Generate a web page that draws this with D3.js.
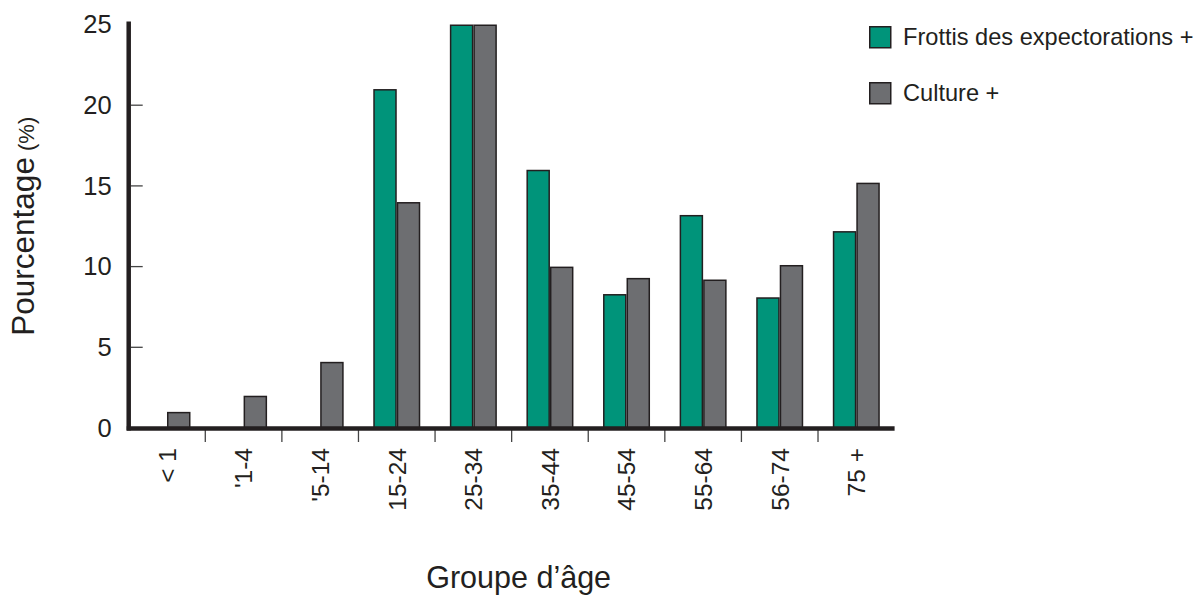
<!DOCTYPE html>
<html><head><meta charset="utf-8">
<script src="https://cdn.jsdelivr.net/npm/d3@7"></script>
<style>
html,body{margin:0;padding:0;background:#fff;}
svg{display:block;font-family:"Liberation Sans",Arial,Helvetica,sans-serif;}
</style></head>
<body>
<svg id="chart" width="1201" height="596"></svg>
<script>
const categories = ["< 1", "'1-4", "'5-14", "15-24", "25-34", "35-44", "45-54", "55-64", "56-74", "75 +"];
const seriesNames = ["Frottis des expectorations +", "Culture +"];
const frottisValues = [0, 0, 0, 21, 25, 16, 8.3, 13.2, 8.1, 12.2];
const cultureValues = [1, 2, 4.1, 14, 25, 10, 9.3, 9.2, 10.1, 15.2];
const yTicks = [0, 5, 10, 15, 20, 25];
const colors = ["#00947a", "#6d6e71"];

(function () {
const svg = d3.select("#chart");
const ink = "#231f20";
const pLeft = 128.7, pRight = 894.6, pTop = 24.5, pBottom = 428;

const x = d3.scaleBand().domain(categories).range([pLeft, pRight]).paddingInner(0).paddingOuter(0);
const bw = x.bandwidth();
const barW = 23.5;
const x1 = d3.scaleBand().domain(seriesNames).range([bw / 2 - barW, bw / 2 + barW]);
const y = d3.scaleLinear().domain([0, 25]).range([pBottom, pTop]);

const data = categories.map((c, i) => ({cat: c, vals: [frottisValues[i], cultureValues[i]]}));

// bars
const g = svg.append("g");
const groups = g.selectAll("g.cat").data(data).join("g")
  .attr("transform", d => `translate(${x(d.cat)},0)`);
groups.selectAll("rect").data(d => d.vals.map((v, k) => ({v, k})).filter(e => e.v > 0)).join("rect")
  .attr("x", e => x1(seriesNames[e.k]) + 0.75)
  .attr("y", e => y(e.v) + 0.75)
  .attr("width", x1.bandwidth() - 1.5)
  .attr("height", e => y(0) - y(e.v))
  .attr("fill", e => colors[e.k])
  .attr("stroke", ink)
  .attr("stroke-width", 1.5);

// y axis
const yAxis = d3.axisLeft(y).tickValues(yTicks).tickSize(0).tickPadding(17);
const ya = svg.append("g").attr("transform", `translate(${pLeft},0)`).call(yAxis);
ya.select(".domain").remove();
ya.selectAll("text").attr("font-size", 25.5).attr("fill", ink).attr("font-family", "Liberation Sans, Arial, sans-serif");
// inner tick marks
svg.append("g").selectAll("line").data(yTicks.filter(t => t > 0 && t < 25)).join("line")
  .attr("x1", pLeft + 2).attr("x2", pLeft + 14)
  .attr("y1", d => y(d)).attr("y2", d => y(d))
  .attr("stroke", "#444").attr("stroke-width", 1.3);

// x axis ticks at band boundaries
svg.append("g").selectAll("line").data(categories.slice(1)).join("line")
  .attr("x1", d => x(d)).attr("x2", d => x(d))
  .attr("y1", pBottom + 2).attr("y2", pBottom + 14)
  .attr("stroke", "#444").attr("stroke-width", 1.3);

// x labels
svg.append("g").selectAll("text").data(categories).join("text")
  .attr("transform", d => `translate(${x(d) + bw / 2},448) rotate(-90)`)
  .attr("text-anchor", "end")
  .attr("dy", "0.36em")
  .attr("font-size", 24.5)
  .attr("fill", ink)
  .text(d => d);

// axis lines
svg.append("line").attr("x1", pLeft).attr("x2", pLeft).attr("y1", 21.5).attr("y2", pBottom + 2.5)
  .attr("stroke", ink).attr("stroke-width", 4.5);
svg.append("line").attr("x1", pLeft - 2).attr("x2", pRight).attr("y1", pBottom + 0.5).attr("y2", pBottom + 0.5)
  .attr("stroke", ink).attr("stroke-width", 4.6);

// y title
const yt = svg.append("text")
  .attr("transform", `translate(34,${(pTop + pBottom) / 2}) rotate(-90)`)
  .attr("text-anchor", "middle")
  .attr("fill", ink);
yt.append("tspan").attr("font-size", 31.5).text("Pourcentage");
yt.append("tspan").attr("font-size", 22).attr("dx", 0).text(" (%)");

// x title
svg.append("text")
  .attr("x", (pLeft + pRight) / 2 + 7).attr("y", 588)
  .attr("text-anchor", "middle")
  .attr("font-size", 30.5)
  .attr("fill", ink)
  .text("Groupe d\u2019\u00e2ge");

// legend
const leg = svg.append("g").selectAll("g").data(seriesNames).join("g")
  .attr("transform", (d, i) => `translate(869,${26 + i * 56})`);
leg.append("rect").attr("x", 0.75).attr("y", 0.75).attr("width", 21).attr("height", 21)
  .attr("fill", (d, i) => colors[i]).attr("stroke", ink).attr("stroke-width", 1.5);
leg.append("text").attr("x", 34).attr("y", 19).attr("font-size", 23.6).attr("fill", ink).text(d => d);
})();
</script>
</body></html>
